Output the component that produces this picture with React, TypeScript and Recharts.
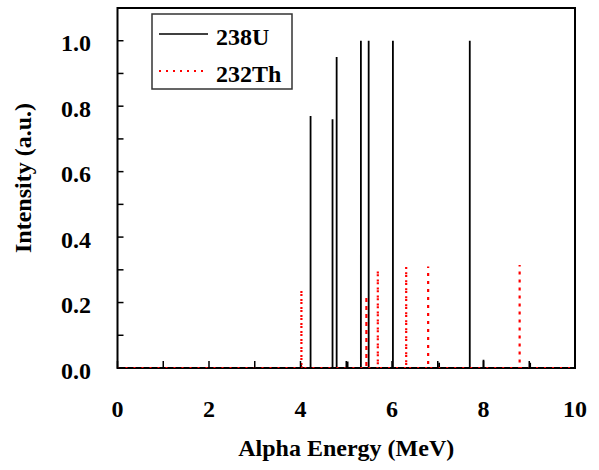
import { LineChart, Line, XAxis, YAxis, ReferenceArea, Legend } from 'recharts';

// peak energies (MeV) and relative intensities
const uEnergies = [4.01, 4.22, 4.70, 4.79, 5.03, 5.32, 5.49, 6.02, 7.03, 7.70, 8.00, 9.02];
const uIntensity = [0.015, 0.77, 0.76, 0.95, 0.02, 1.0, 1.0, 1.0, 0.016, 1.0, 0.025, 0.016];

const thEnergies = [4.02, 5.44, 5.69, 6.31, 6.79, 8.79];
const thIntensity = [0.24, 0.22, 0.30, 0.31, 0.31, 0.315];

const xTicks = [0, 1, 2, 3, 4, 5, 6, 7, 8, 9, 10];
const yTicks = [0, 0.1, 0.2, 0.3, 0.4, 0.5, 0.6, 0.7, 0.8, 0.9, 1.0, 1.1];

const FONT = 'Liberation Serif';

// turn a list of peaks into a stick spectrum on a zero baseline
function sticks(energies: number[], values: number[]) {
  const pts = [{ x: 0, y: 0 }];
  energies.forEach((e, i) => {
    pts.push({ x: e, y: 0 }, { x: e, y: values[i] }, { x: e, y: 0 });
  });
  pts.push({ x: 10, y: 0 });
  return pts;
}

const uData = sticks(uEnergies, uIntensity);
const thData = sticks(thEnergies, thIntensity);

const LegendBox = () => (
  <svg width={142} height={77}>
    <rect x={1} y={1} width={140} height={75} fill="#fff" stroke="#333" strokeWidth={1.5} />
    <line x1={8} x2={57} y1={21} y2={21} stroke="#000" strokeWidth={1.5} />
    <text x={65} y={32} fontFamily={FONT} fontWeight="bold" fontSize={24} fill="#000">238U</text>
    <line x1={8} x2={57} y1={58} y2={58} stroke="#ff0000" strokeWidth={2} strokeDasharray="2 5" />
    <text x={65} y={69} fontFamily={FONT} fontWeight="bold" fontSize={24} fill="#000">232Th</text>
  </svg>
);

const YTitle = () => (
  <text
    x={31}
    y={178}
    transform="rotate(-90, 31, 178)"
    textAnchor="middle"
    style={{ fontFamily: FONT, fontWeight: 'bold', fontSize: 24 }}
    fill="#000"
  >
    Intensity (a.u.)
  </text>
);

const tickFont = { fontFamily: FONT, fontWeight: 'bold', fontSize: 24, fill: '#000' };

export default function App() {
  return (
    <div style={{ position: 'absolute', left: 0, top: 0, fontFamily: FONT }}>
      <LineChart width={599} height={470} margin={{ top: 8, right: 24, bottom: 0, left: 0 }}>
        <XAxis
          dataKey="x"
          type="number"
          domain={[0, 10]}
          ticks={xTicks}
          interval={0}
          allowDataOverflow
          height={102}
          axisLine={false}
          stroke="#000"
          tickLine={{ stroke: '#000', strokeWidth: 1.5 }}
          tickSize={-7}
          tickMargin={39}
          tickFormatter={(v: number) => (v % 2 === 0 ? String(v) : '')}
          tick={tickFont}
          label={{
            value: 'Alpha Energy (MeV)',
            position: 'insideBottom',
            offset: 14,
            ...tickFont,
          }}
        />
        <YAxis
          type="number"
          domain={[0, 1.1]}
          ticks={yTicks}
          interval={0}
          allowDataOverflow
          width={117.5}
          axisLine={false}
          stroke="#000"
          tickLine={{ stroke: '#000', strokeWidth: 1.5 }}
          tickSize={-6}
          tickMargin={32.5}
          tickFormatter={(v: number) => (Math.round(v * 10) % 2 === 0 && v < 1.05 ? v.toFixed(1) : '')}
          tick={{ ...tickFont, dy: 2 }}
          label={{ content: () => <YTitle /> }}
        />
        <ReferenceArea
          x1={0}
          x2={10}
          y1={0}
          y2={1.1}
          fill="none"
          fillOpacity={0}
          stroke="#000"
          strokeWidth={2}
          strokeOpacity={1}
          ifOverflow="visible"
        />
        <Line
          data={uData}
          dataKey="y"
          name="238U"
          type="linear"
          stroke="#000"
          strokeWidth={1.8}
          dot={false}
          activeDot={false}
          isAnimationActive={false}
        />
        <Line
          data={thData}
          dataKey="y"
          name="232Th"
          type="linear"
          stroke="#ff0000"
          strokeWidth={2.2}
          strokeDasharray="2 6"
          dot={false}
          activeDot={false}
          isAnimationActive={false}
        />
        <Legend
          layout="vertical"
          align="center"
          verticalAlign="middle"
          wrapperStyle={{ left: 151, top: 13, width: 142, height: 77 }}
          content={() => <LegendBox />}
        />
      </LineChart>
    </div>
  );
}
